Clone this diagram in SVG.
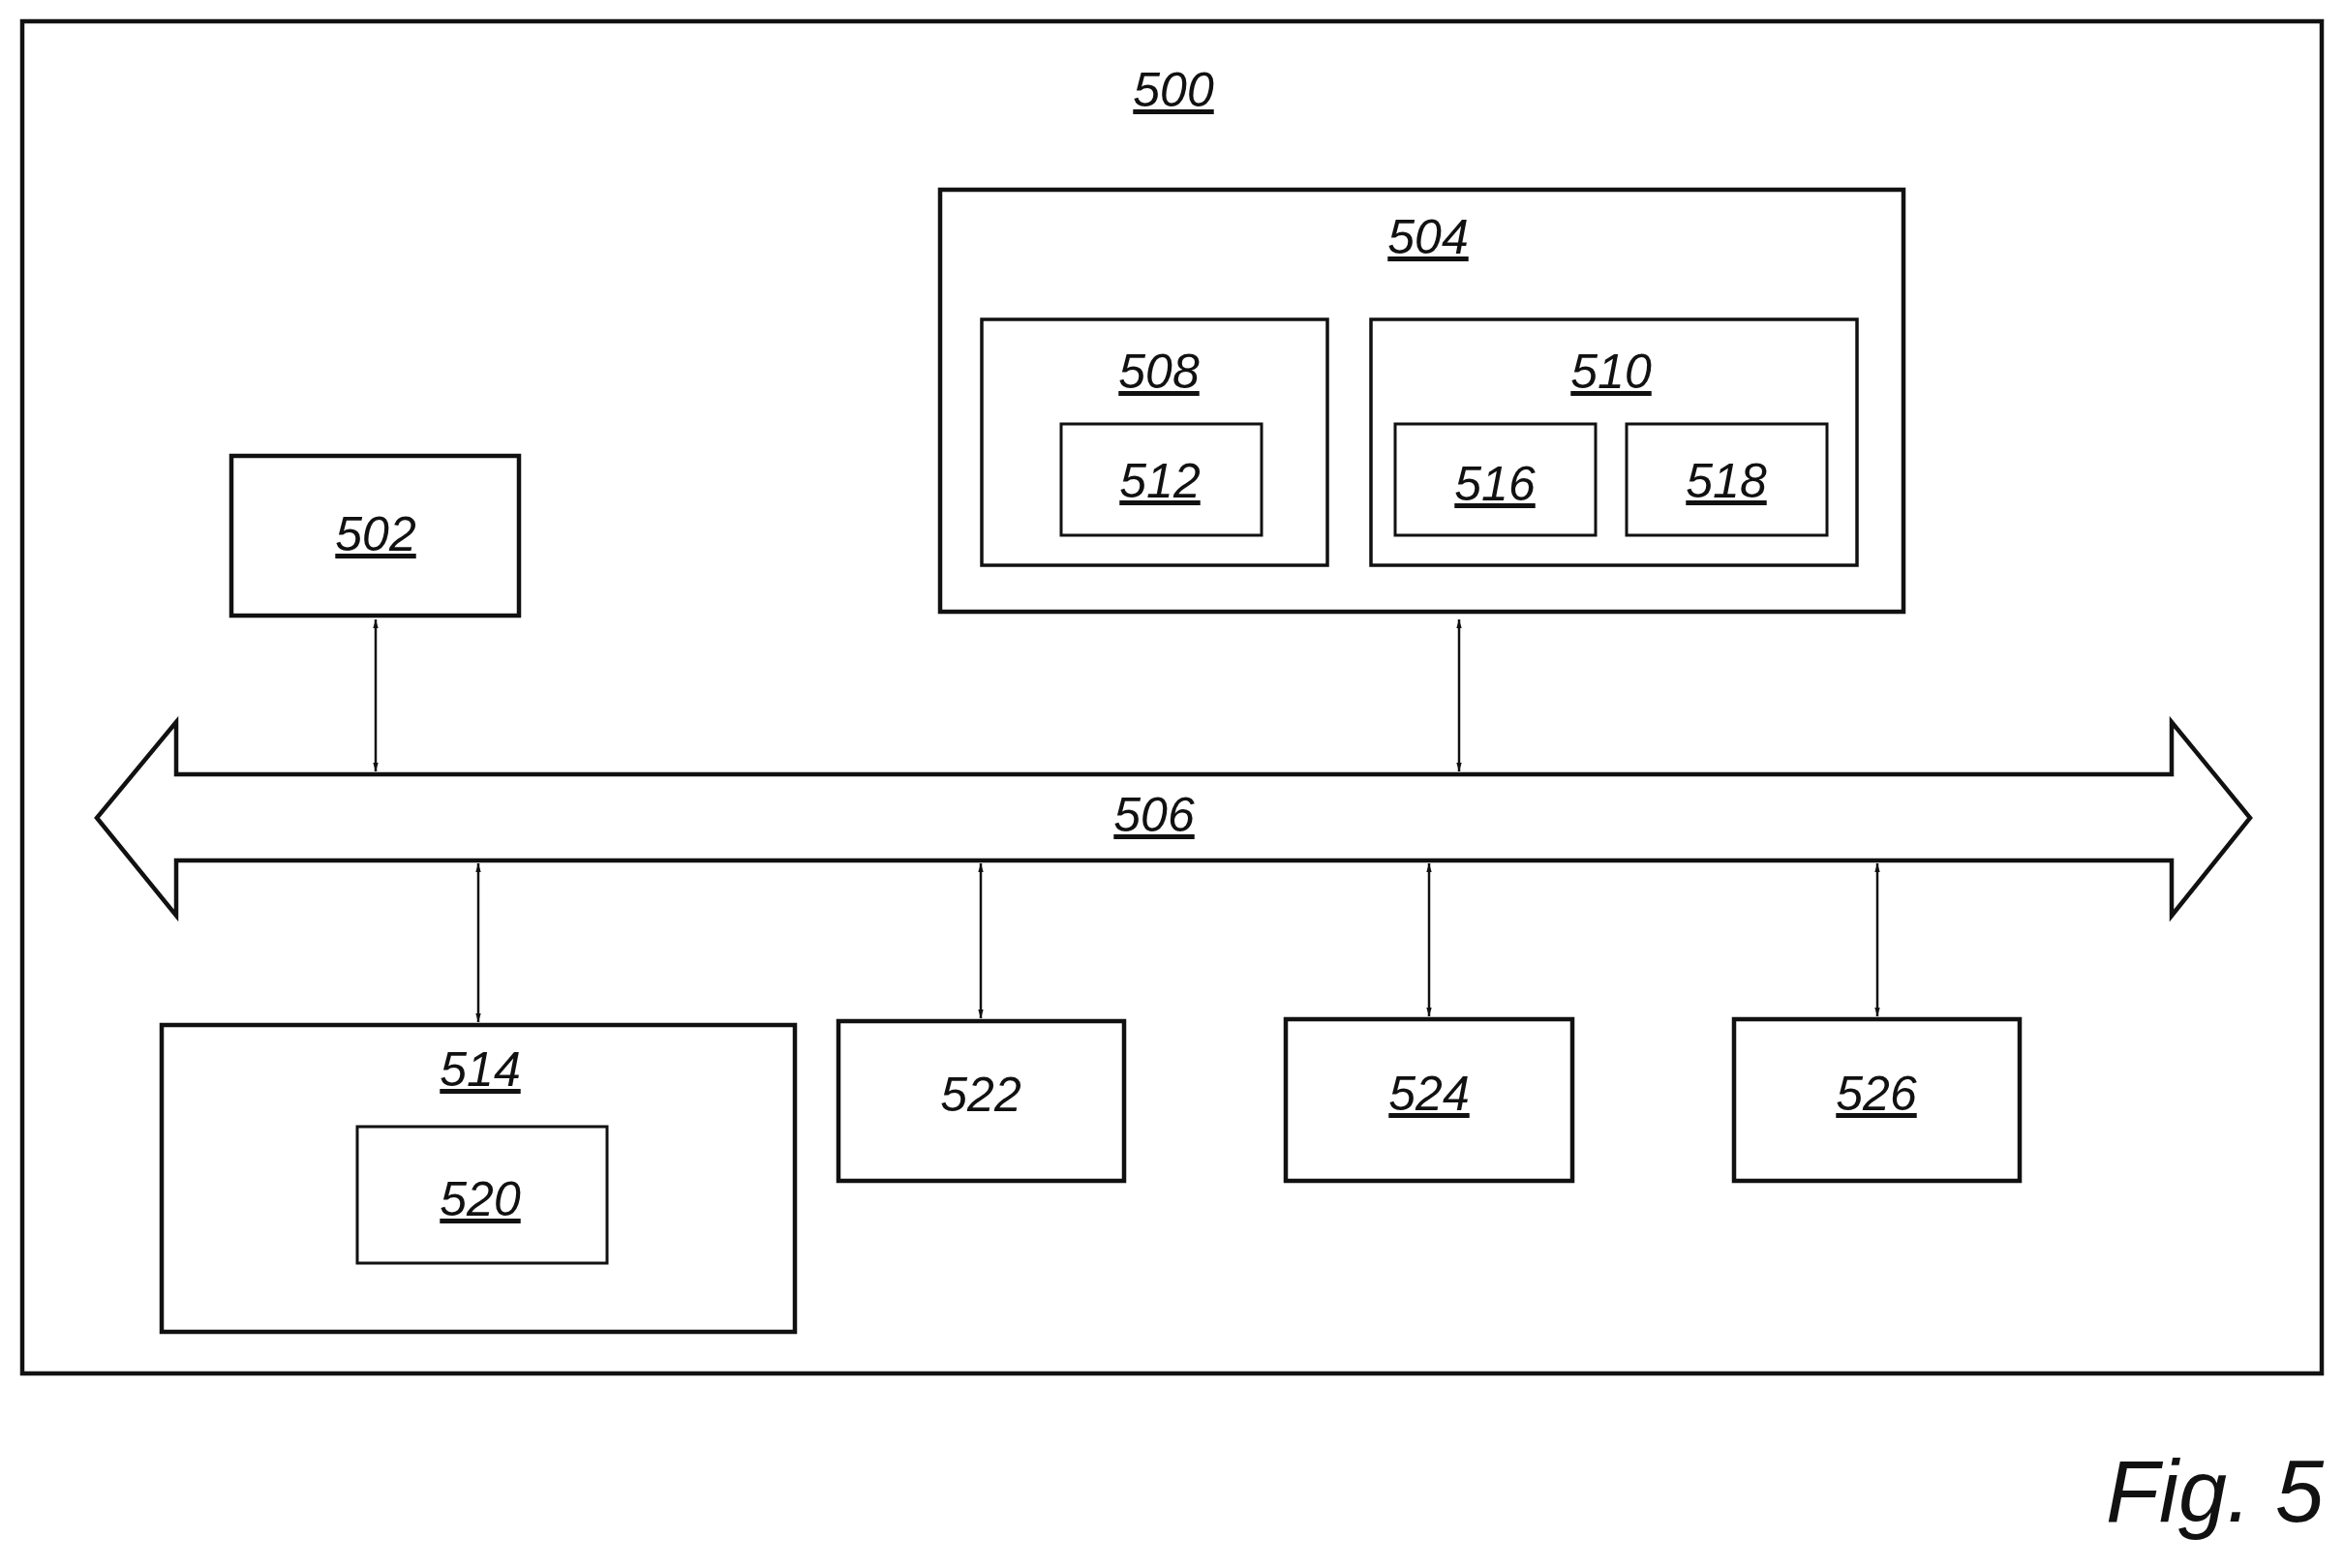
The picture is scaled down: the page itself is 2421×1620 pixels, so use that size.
<svg xmlns="http://www.w3.org/2000/svg" width="2421" height="1620" viewBox="0 0 2421 1620">
<style>
.b{fill:#fff;stroke:#111;stroke-width:4.5}
.t{fill:none;stroke:#111;stroke-width:3}
.l{font-family:"Liberation Sans",Arial,sans-serif;font-style:italic;font-size:50px;fill:#111;text-anchor:middle;text-decoration:underline}
.c{stroke:#111;stroke-width:2.5;fill:none;marker-start:url(#a);marker-end:url(#a)}
</style>
<defs><marker id="a" viewBox="0 0 10 10" refX="10" refY="5" markerWidth="9" markerHeight="22" markerUnits="userSpaceOnUse" orient="auto-start-reverse"><path d="M0,2L10,5L0,8Z" fill="#111"/></marker>
<marker id="m" viewBox="0 0 40 20" refX="40" refY="10" markerWidth="16" markerHeight="44" markerUnits="userSpaceOnUse" orient="auto-start-reverse" preserveAspectRatio="none"><path d="M0,0L40,10L0,20Z" fill="#111"/></marker></defs>
<rect class="b" x="23" y="22" width="2375" height="1397"/>
<text class="l" x="1212" y="110">500</text>
<g id="n504"><rect class="b" x="971" y="196" width="995" height="436"/><text class="l" x="1475" y="262">504</text></g>
<g id="n508"><rect class="b" x="1014" y="330" width="357" height="254" style="stroke-width:3.5"/><text class="l" x="1197" y="401">508</text></g>
<g id="n512"><rect class="t" x="1096" y="438" width="207" height="115"/><text class="l" x="1198" y="514">512</text></g>
<g id="n510"><rect class="b" x="1416" y="330" width="502" height="254" style="stroke-width:3.5"/><text class="l" x="1664" y="401">510</text></g>
<g id="n516"><rect class="t" x="1441" y="438" width="207" height="115"/><text class="l" x="1544" y="517">516</text></g>
<g id="n518"><rect class="t" x="1680" y="438" width="207" height="115"/><text class="l" x="1783" y="514">518</text></g>
<g id="n502"><rect class="b" x="239" y="471" width="297" height="165"/><text class="l" x="388" y="569">502</text></g>
<g id="n506"><path class="b" d="M182,746V800H2243V746L2324,845L2243,946V889H182V946L100,845Z"/><text class="l" x="1192" y="859">506</text></g>
<g id="n514"><rect class="b" x="167" y="1059" width="654" height="317"/><text class="l" x="496" y="1122">514</text></g>
<g id="n520"><rect class="t" x="369" y="1164" width="258" height="141"/><text class="l" x="496" y="1256">520</text></g>
<g id="n522"><rect class="b" x="866" y="1055" width="295" height="165"/><text class="l" x="1013" y="1148" style="text-decoration:none">522</text></g>
<g id="n524"><rect class="b" x="1328" y="1053" width="296" height="167"/><text class="l" x="1476" y="1147">524</text></g>
<g id="n526"><rect class="b" x="1791" y="1053" width="295" height="167"/><text class="l" x="1938" y="1147">526</text></g>
<g id="connectors">
<line class="c" x1="388" y1="640" x2="388" y2="797"/>
<line class="c" x1="1507" y1="640" x2="1507" y2="797"/>
<line class="c" x1="494" y1="892" x2="494" y2="1056"/>
<line class="c" x1="1013" y1="892" x2="1013" y2="1052"/>
<line class="c" x1="1476" y1="892" x2="1476" y2="1050"/>
<line class="c" x1="1939" y1="892" x2="1939" y2="1050"/>
</g>
<text x="2400" y="1572" style="font-family:'Liberation Sans',Arial,sans-serif;font-style:italic;font-size:90px;fill:#111;text-anchor:end">Fig. 5</text>
</svg>
